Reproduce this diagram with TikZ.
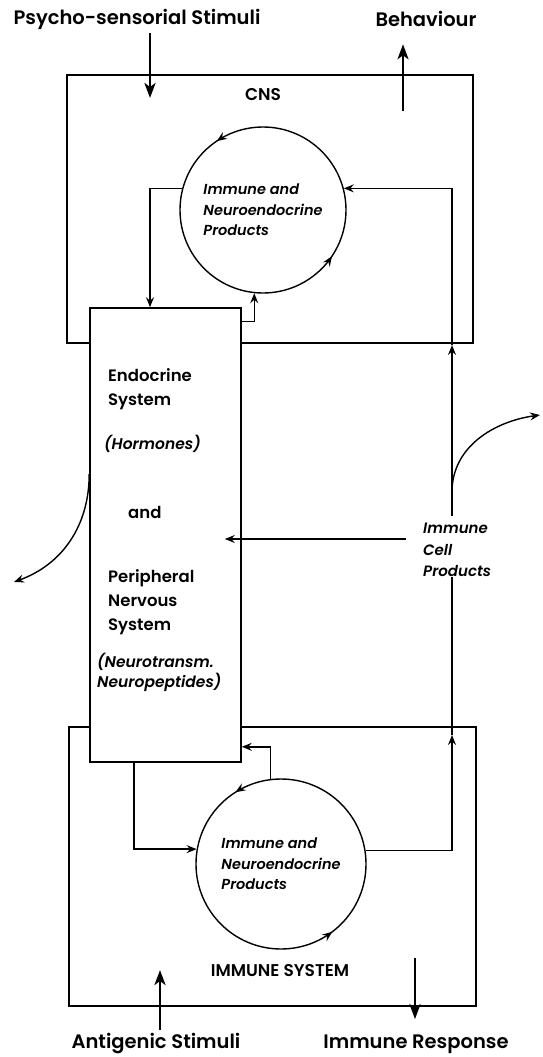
\documentclass[tikz,border=0pt]{standalone}
\usepackage{fontspec}
\setmainfont{Poppins}[BoldFont={Poppins SemiBold}, BoldItalicFont={Poppins SemiBold Italic}]
\usetikzlibrary{positioning,arrows.meta,decorations.markings}

\begin{document}
\begin{tikzpicture}[
  x=1pt, y=-1pt,
  ptip/.tip={Stealth[length=10pt, width=8pt, inset=3.5pt]},
  outlbl/.style={font=\bfseries\fontsize{19.5}{24}\selectfont},
  syslbl/.style={font=\bfseries\fontsize{17}{22}\selectfont},
  lbl/.style={font=\bfseries\fontsize{16.5}{24}\selectfont, inner sep=0pt, align=left},
  ilbl/.style={font=\bfseries\itshape\fontsize{15.5}{20}\selectfont, inner sep=0pt, align=left},
  sysbox/.style={draw, line width=1.6pt},
  prodcirc/.style={draw, circle, line width=1.4pt, minimum size=#1, inner sep=0pt, align=left, font=\bfseries\itshape\fontsize{14.5}{20.5}\selectfont},
  circarr/.style 2 args={postaction={decorate}, decoration={markings, mark=at position #1 with {\arrow{ptip}}, mark=at position #2 with {\arrow{ptip}}}},
  arr/.style={-ptip, line width=1.4pt},
  bigarr/.style={-{Stealth[length=15pt, width=11pt, inset=4pt]}, line width=2.8pt}
]
\useasboundingbox (0,0) rectangle (542,1057);
\node[sysbox, minimum width=406, minimum height=268] (cns) at (270,209) {};
\node[sysbox, minimum width=407, minimum height=279] (imm) at (272.5,866.5) {};
\node[syslbl] (cnslbl) at (263,95) {CNS};
\node[syslbl] (immlbl) at (280,971) {IMMUNE SYSTEM};
\node[outlbl] (psycho) at (137,19) {Psycho-sensorial Stimuli};
\node[outlbl] (beh) at (426,19) {Behaviour};
\node[outlbl] (antig) at (156,1044) {Antigenic Stimuli};
\node[outlbl] (resp) at (416,1044) {Immune Response};
\node[sysbox, fill=white, minimum width=151, minimum height=454] (eps) at (165.5,535) {};
\node[lbl, anchor=west] (endo) at (108,389) {Endocrine\\System};
\node[ilbl, anchor=west] (horm) at (104,444) {(Hormones)};
\node[lbl, anchor=west] (andtxt) at (128,512) {and};
\node[lbl, anchor=west] (periph) at (108,602) {Peripheral\\Nervous\\System};
\node[ilbl, anchor=west] (neuro) at (97,672) {(Neurotransm.\\Neuropeptides)};
\node[prodcirc=166, circarr={0.344}{0.906}] (cnsprod) at (263,210) {Immune and\\Neuroendocrine\\Products};
\node[prodcirc=170, circarr={0.34}{0.853}] (immprod) at (281,864) {Immune and\\Neuroendocrine\\Products};
\node[ilbl, font=\bfseries\itshape\fontsize{15}{21.5}\selectfont, anchor=west] (ics) at (423,550) {Immune\\Cell\\Products};
\coordinate (psyin) at (150,98);
\coordinate (behout) at (403,111);
\coordinate (antin) at (160,970);
\coordinate (resout) at (415,958);
\coordinate (ra) at (452,735);
\coordinate (rc) at (452,345);
\coordinate (rs) at (452,492);
\coordinate (outr) at (540,415);
\coordinate (outl) at (14,582);
\draw[bigarr] (psycho.south -| psyin) -- (psyin);
\draw[bigarr] (behout) -- ([yshift=-14pt]beh.south -| behout);
\draw[bigarr] (antig.north -| antin) -- (antin);
\draw[bigarr] (resout) -- ([yshift=12pt]resp.north -| resout);
\draw[arr] (cnsprod.165) -| ([xshift=-15.5pt]eps.north);
\draw[arr] ([yshift=-14pt]eps.north east) -| (cnsprod.-96);
\draw[arr] (rc) |- (cnsprod.15);
\draw[arr] ([xshift=-17pt, yshift=-16pt]ics.north west) -- ([xshift=-17pt, yshift=-16pt]ics.north west -| eps.east);
\draw[arr] (immprod.97) |- ([yshift=16pt]eps.south east);
\draw[arr] ([xshift=-31.5pt]eps.south) |- (immprod.170);
\draw[arr] (immprod.9) -| (ra);
\draw[line width=1.4pt] (ra) -- (ics.south -| ra);
\draw[arr] ([yshift=7pt]ics.north -| ra) -- (rc);
\draw[arr] (rs) to[out=90, in=188] (outr);
\draw[arr] ([yshift=61pt]eps.west) to[out=-90, in=20] (outl);
\end{tikzpicture}
\end{document}
